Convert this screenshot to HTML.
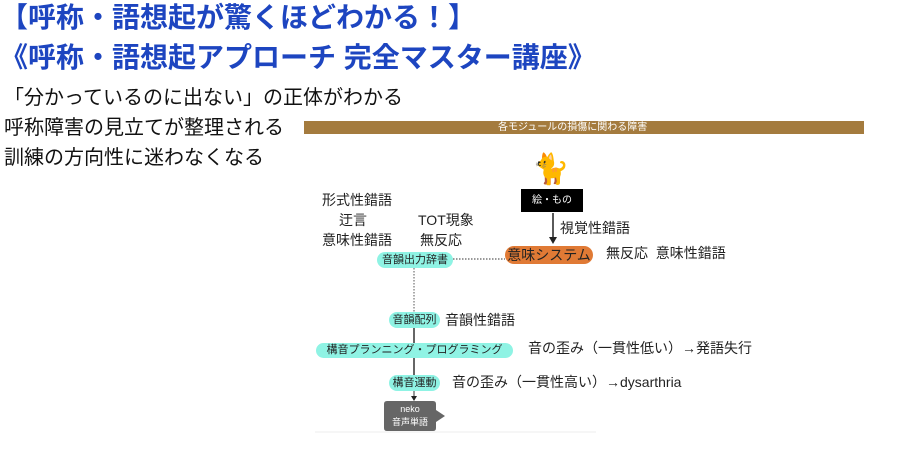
<!DOCTYPE html>
<html><head><meta charset="utf-8"><style>
body{margin:0;width:920px;height:450px;background:#fff;position:relative;overflow:hidden;font-family:"Liberation Sans","Noto Sans CJK JP",sans-serif;}
.a{position:absolute;white-space:nowrap;}
.t{color:#1d45c0;font-weight:bold;font-size:28px;line-height:32px;}
.b{font-size:20px;color:#111;line-height:24px;}
.s{font-size:14px;color:#222;line-height:17px;}
.pill{position:absolute;background:#8ff3e4;border-radius:8px;font-size:11px;color:#222;text-align:center;white-space:nowrap;}
</style></head><body>
<div class="a t" style="left:0px;top:2px;">【呼称・語想起が驚くほどわかる！】</div>
<div class="a t" style="left:0px;top:42px;">《呼称・語想起アプローチ 完全マスター講座》</div>
<div class="a b" style="left:4px;top:86px;">「分かっているのに出ない」の正体がわかる</div>
<div class="a b" style="left:4px;top:116px;">呼称障害の見立てが整理される</div>
<div class="a b" style="left:4px;top:146px;">訓練の方向性に迷わなくなる</div>

<div class="a" style="left:304px;top:121px;width:560px;height:13px;background:#a47b3e;"></div>
<div class="a" style="left:498px;top:121px;font-size:10px;line-height:13px;color:#fff;">各モジュールの損傷に関わる障害</div>

<div class="a" style="left:532px;top:152px;font-size:30px;line-height:36px;">🐈</div>
<div class="a" style="left:521px;top:189px;width:62px;height:23px;background:#000;color:#fff;font-size:10px;line-height:23px;text-align:center;">絵・もの</div>
<svg class="a" style="left:0;top:0;" width="920" height="450">
<line x1="553" y1="213" x2="553" y2="238" stroke="#222" stroke-width="1.5"/>
<polygon points="549,237 557,237 553,244" fill="#222"/>
<line x1="453" y1="259" x2="505" y2="259" stroke="#333" stroke-dasharray="1.5,1.5"/>
<line x1="414" y1="268" x2="414" y2="312" stroke="#555" stroke-dasharray="1.5,1.5"/>
<line x1="414" y1="328" x2="414" y2="343" stroke="#333" stroke-width="1.5"/>
<line x1="414" y1="358" x2="414" y2="375" stroke="#333" stroke-width="1.5"/>
<line x1="414" y1="391" x2="414" y2="397" stroke="#333" stroke-width="1"/>
<polygon points="411,396 417,396 414,401" fill="#222"/>
<path d="M387,401 H433 Q436,401 436,404 V410 L445,416 L436,422 V428 Q436,431 433,431 H387 Q384,431 384,428 V404 Q384,401 387,401 Z" fill="#666"/>
<line x1="315" y1="432" x2="596" y2="432" stroke="#eee" stroke-width="1"/>
</svg>
<div class="a" style="left:384px;top:403px;width:52px;font-size:9px;color:#fff;text-align:center;line-height:13px;">neko<br>音声単語</div>

<div class="a s" style="left:560px;top:220px;">視覚性錯語</div>
<div class="a" style="left:505px;top:246px;width:88px;height:18px;background:#e07a35;border-radius:9px;font-size:14px;line-height:18px;text-align:center;color:#222;">意味システム</div>
<div class="a s" style="left:606px;top:245px;">無反応&nbsp;&nbsp;意味性錯語</div>

<div class="a s" style="left:322px;top:192px;">形式性錯語</div>
<div class="a s" style="left:339px;top:212px;">迂言</div>
<div class="a s" style="left:418px;top:212px;">TOT現象</div>
<div class="a s" style="left:322px;top:232px;">意味性錯語</div>
<div class="a s" style="left:420px;top:232px;">無反応</div>

<div class="pill" style="left:377px;top:252px;width:76px;height:16px;line-height:16px;">音韻出力辞書</div>
<div class="pill" style="left:389px;top:312px;width:51px;height:16px;line-height:16px;">音韻配列</div>
<div class="a s" style="left:445px;top:312px;">音韻性錯語</div>
<div class="pill" style="left:316px;top:343px;width:197px;height:15px;line-height:15px;">構音プランニング・プログラミング</div>
<div class="a s" style="left:528px;top:340px;">音の歪み（一貫性低い）→発語失行</div>
<div class="pill" style="left:389px;top:375px;width:51px;height:16px;line-height:16px;">構音運動</div>
<div class="a s" style="left:452px;top:374px;">音の歪み（一貫性高い）→dysarthria</div>
</body></html>
